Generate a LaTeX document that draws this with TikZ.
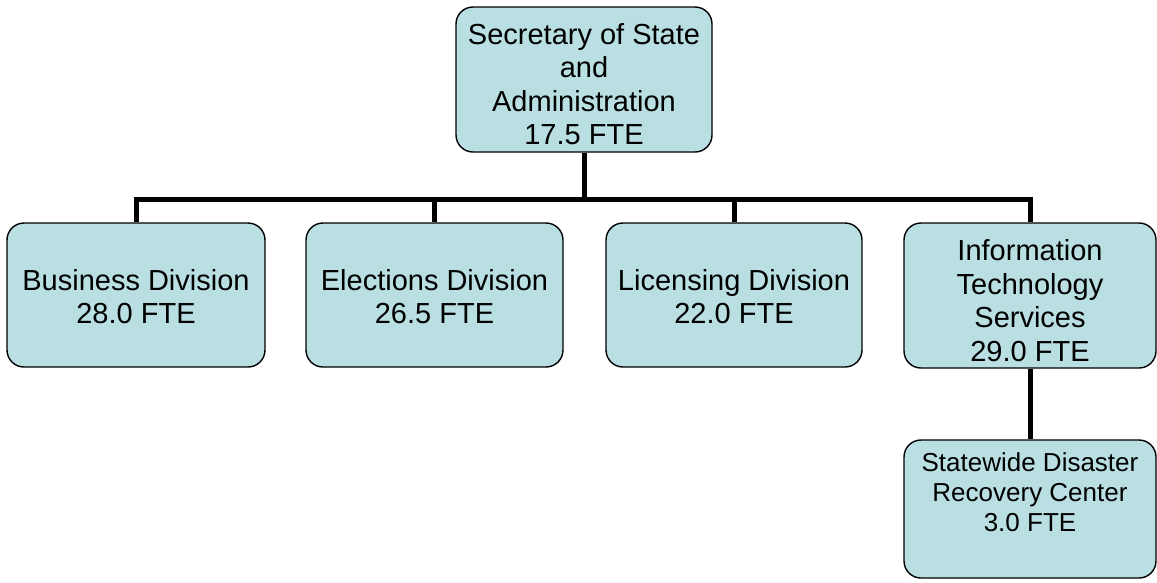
\documentclass[tikz,border=0pt]{standalone}
\usepackage{fontspec}
\setmainfont{Liberation Sans}
\definecolor{boxfill}{RGB}{185,223,227}
\tikzset{
  orgbox/.style={draw=black, line width=1.4pt, fill=boxfill, rounded corners=17pt,
    align=center, inner sep=0pt, font=\fontsize{29}{33.5}\selectfont},
  conn/.style={line width=5pt, line join=miter}
}
\begin{document}
\begin{tikzpicture}[x=1pt,y=-1pt]
\useasboundingbox (0,0) rectangle (1157,582);
\node[orgbox, minimum width=256pt, minimum height=145pt] (sos) at (584,79.5)
  {\rule{0pt}{30pt}Secretary of State\\and\\Administration\\17.5 FTE};
\node[orgbox, minimum width=258pt, minimum height=144pt] (bus) at (136,295)
  {\rule{0pt}{24pt}Business Division\\28.0 FTE};
\node[orgbox, minimum width=257pt, minimum height=144pt] (ele) at (434.5,295)
  {\rule{0pt}{24pt}Elections Division\\26.5 FTE};
\node[orgbox, minimum width=256pt, minimum height=144pt] (lic) at (734,295)
  {\rule{0pt}{24pt}Licensing Division\\22.0 FTE};
\node[orgbox, minimum width=252pt, minimum height=145pt] (its) at (1030,295.5)
  {\rule{0pt}{31pt}Information\\Technology\\Services\\29.0 FTE};
\node[orgbox, minimum width=252pt, minimum height=138pt] (sdrc) at (1030,509) {};
\node[align=center, inner sep=0pt, anchor=north, font=\fontsize{26}{30}\selectfont]
  (sdrctext) at ([yshift=-13pt]sdrc.north)
  {Statewide Disaster\\Recovery Center\\3.0 FTE};
\coordinate (bary) at (0,199);
\draw[conn] (sos.south) -- (sos.south |- bary);
\draw[conn] (bus.north) -- (bus.north |- bary) -- (its.north |- bary) -- (its.north);
\draw[conn] (ele.north) -- (ele.north |- bary);
\draw[conn] (lic.north) -- (lic.north |- bary);
\draw[conn] (its.south) -- (sdrc.north);
\end{tikzpicture}
\end{document}
